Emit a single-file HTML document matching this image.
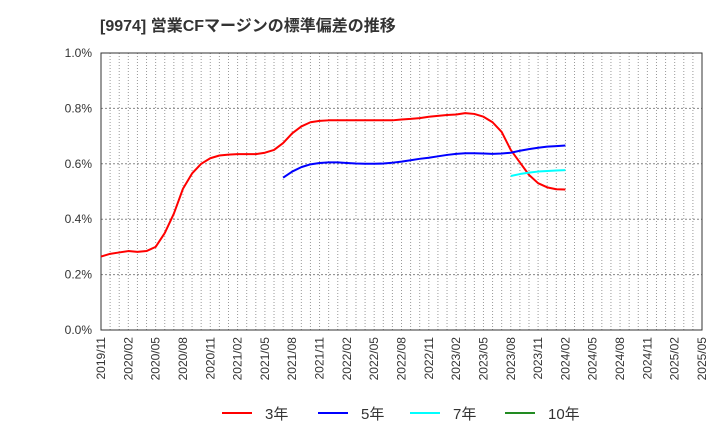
<!DOCTYPE html>
<html><head><meta charset="utf-8"><style>
body{margin:0;background:#fff;font-family:"Liberation Sans","Noto Sans CJK JP",sans-serif;}
svg text{font-family:"Liberation Sans","Noto Sans CJK JP",sans-serif;}
</style></head><body>
<svg id="chart" width="720" height="440" xmlns="http://www.w3.org/2000/svg">
<text x="100" y="31" font-size="16" font-weight="bold" fill="#333">[9974]  営業CFマージンの標準偏差の推移</text>
<g id="grid"></g><g id="axes"></g><g id="series"></g><g id="legend"></g>
</svg>
<script>
const xLabels=["2019/11","2020/02","2020/05","2020/08","2020/11","2021/02","2021/05","2021/08","2021/11","2022/02","2022/05","2022/08","2022/11","2023/02","2023/05","2023/08","2023/11","2024/02","2024/05","2024/08","2024/11","2025/02","2025/05"];
const yTicks=[0,0.2,0.4,0.6,0.8,1.0];
const s3=[0.265,0.275,0.28,0.285,0.282,0.285,0.30,0.35,0.42,0.51,0.565,0.60,0.62,0.63,0.633,0.635,0.635,0.635,0.64,0.65,0.675,0.71,0.735,0.75,0.755,0.757,0.757,0.757,0.757,0.757,0.757,0.757,0.757,0.76,0.762,0.765,0.77,0.773,0.776,0.778,0.783,0.78,0.77,0.75,0.715,0.65,0.605,0.56,0.53,0.515,0.508,0.507];
const s3Start=0;
const s5=[0.55,0.572,0.588,0.598,0.603,0.605,0.605,0.603,0.601,0.6,0.6,0.601,0.604,0.608,0.613,0.618,0.622,0.627,0.632,0.636,0.638,0.638,0.637,0.636,0.637,0.64,0.647,0.653,0.658,0.662,0.664,0.666];
const s5Start=20;
const s7=[0.556,0.563,0.568,0.572,0.574,0.576,0.577];
const s7Start=45;
const s10=[];
const s10Start=0;
const L=101,R=702,T=53,B=330,N=66;
const x=i=>L+(R-L)*i/N;
const y=v=>B-(B-T)*v/1.0;
const NS="http://www.w3.org/2000/svg";
function mk(p,t,a){const e=document.createElementNS(NS,t);for(const k in a)e.setAttribute(k,a[k]);p.appendChild(e);return e;}
const grid=document.getElementById('grid'),axes=document.getElementById('axes'),ser=document.getElementById('series'),leg=document.getElementById('legend');
for(let i=1;i<N;i++){const l=mk(grid,'line',{x1:x(i),x2:x(i),y1:T,y2:B,stroke:'#999','stroke-dasharray':'1,2','stroke-width':1});

}
yTicks.forEach(v=>{if(v>0&&v<1){const l=mk(grid,'line',{x1:L,x2:R,y1:y(v),y2:y(v),stroke:'#888','stroke-dasharray':'2,2','stroke-width':1});

}
const t=mk(axes,'text',{x:L-9,y:y(v)+4,'text-anchor':'end','font-size':12,fill:'#333'});t.textContent=v.toFixed(1)+'%';

});
const fr=mk(axes,'rect',{x:L,y:T,width:R-L,height:B-T,fill:'none',stroke:'#333','stroke-width':1});


xLabels.forEach((s,k)=>{const xx=x(k*3);const t=mk(axes,'text',{transform:`translate(${xx+4},${B+7}) rotate(-90)`,'text-anchor':'end','font-size':12,fill:'#333'});t.textContent=s;

});
function line(arr,st,col,name){if(!arr.length)return;const p=mk(ser,'polyline',{points:arr.map((v,i)=>x(st+i)+','+y(v)).join(' '),fill:'none',stroke:col,'stroke-width':2,'stroke-linejoin':'round'});

}
line(s3,s3Start,'#ff0000','series-3y');
line(s5,s5Start,'#0000ff','series-5y');
line(s7,s7Start,'#00ffff','series-7y');
line(s10,s10Start,'#228b22','series-10y');
[['3年','#ff0000',222],['5年','#0000ff',318],['7年','#00ffff',410],['10年','#228b22',505]].forEach(([n,c,lx])=>{
const g=mk(leg,'g',{});


mk(g,'line',{x1:lx,x2:lx+30,y1:413,y2:413,stroke:c,'stroke-width':2});
const t=mk(g,'text',{x:lx+43,y:419,'font-size':15,fill:'#333'});t.textContent=n;});
</script>
</body></html>
